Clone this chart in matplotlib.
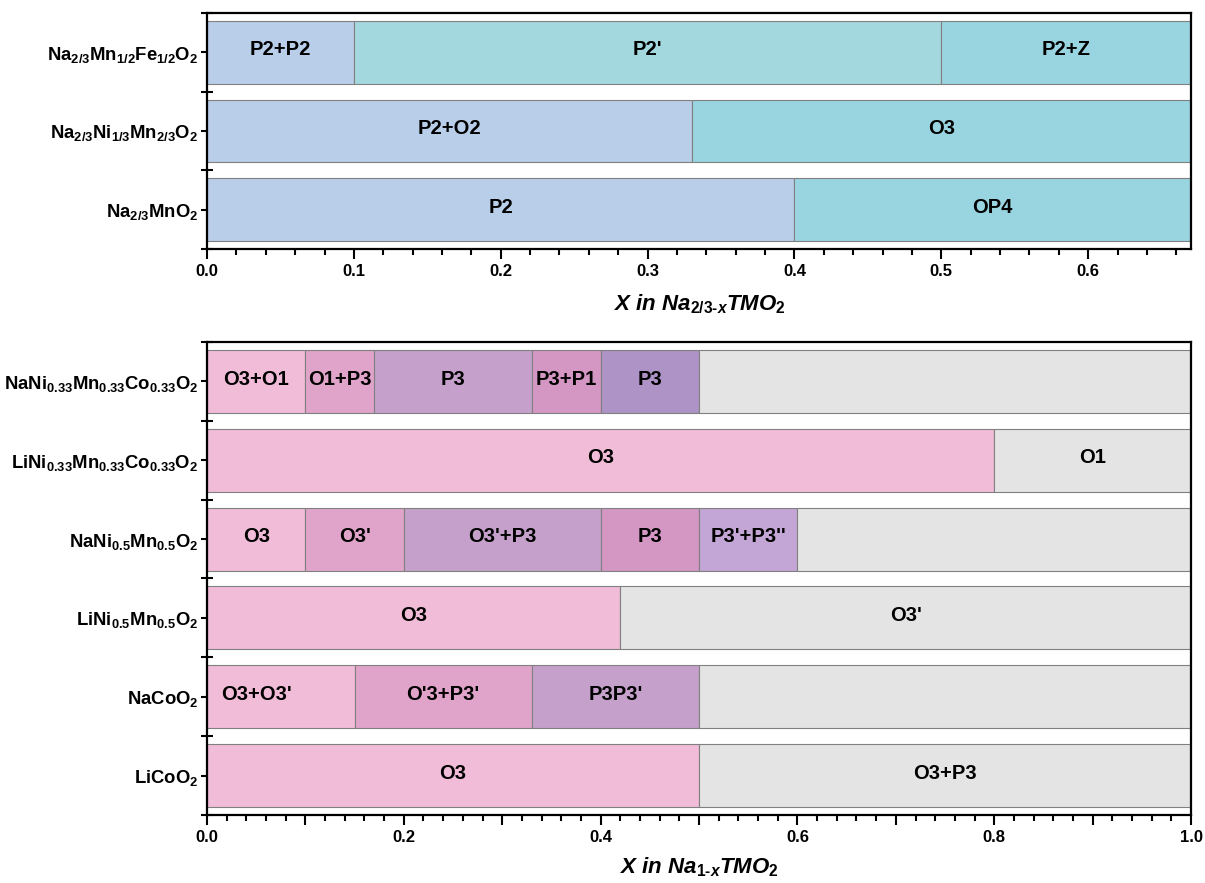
import matplotlib
matplotlib.use("Agg")
import matplotlib.pyplot as plt
from matplotlib.ticker import MultipleLocator, FixedLocator, FuncFormatter

plt.rcParams["font.family"] = "Liberation Sans"
plt.rcParams["font.weight"] = "bold"
plt.rcParams["mathtext.fontset"] = "custom"
plt.rcParams["mathtext.rm"] = "Liberation Sans:bold"
plt.rcParams["mathtext.it"] = "Liberation Sans:bold:italic"
plt.rcParams["mathtext.bf"] = "Liberation Sans:bold"

# ---- top panel: x in Na(2/3-x)TMO2 ----
top_names = [r"$\mathrm{Na_{2/3}Mn_{1/2}Fe_{1/2}O_2}$",
             r"$\mathrm{Na_{2/3}Ni_{1/3}Mn_{2/3}O_2}$",
             r"$\mathrm{Na_{2/3}MnO_2}$"]
top_bounds = [[0.0, 0.1, 0.5, 0.67],
              [0.0, 0.33, 0.67],
              [0.0, 0.4, 0.67]]
top_phases = [["P2+P2", "P2'", "P2+Z"],
              ["P2+O2", "O3"],
              ["P2", "OP4"]]

# ---- bottom panel: x in Na(1-x)TMO2 ----
bot_names = [r"$\mathrm{NaNi_{0.33}Mn_{0.33}Co_{0.33}O_2}$",
             r"$\mathrm{LiNi_{0.33}Mn_{0.33}Co_{0.33}O_2}$",
             r"$\mathrm{NaNi_{0.5}Mn_{0.5}O_2}$",
             r"$\mathrm{LiNi_{0.5}Mn_{0.5}O_2}$",
             r"$\mathrm{NaCoO_2}$",
             r"$\mathrm{LiCoO_2}$"]
bot_bounds = [[0.0, 0.1, 0.17, 0.33, 0.4, 0.5, 1.0],
              [0.0, 0.8, 1.0],
              [0.0, 0.1, 0.2, 0.4, 0.5, 0.6, 1.0],
              [0.0, 0.42, 1.0],
              [0.0, 0.15, 0.33, 0.5, 1.0],
              [0.0, 0.5, 1.0]]
bot_phases = [["O3+O1", "O1+P3", "P3", "P3+P1", "P3", ""],
              ["O3", "O1"],
              ["O3", "O3'", "O3'+P3", "P3", "P3'+P3''", ""],
              ["O3", "O3'"],
              ["O3+O3'", "O'3+P3'", "P3P3'", ""],
              ["O3", "O3+P3"]]

# colours per segment
c_blue, c_teal1, c_teal2 = "#b9cee9", "#a3d8df", "#99d5e0"
c_pink, c_mpink, c_purp = "#f1bcd7", "#e0a4ca", "#c4a0cb"
c_rose, c_vio, c_lav, c_gray = "#d497c4", "#ae93c6", "#c3a6d6", "#e4e4e4"
top_colors = [[c_blue, c_teal1, c_teal2],
              [c_blue, c_teal2],
              [c_blue, c_teal2]]
bot_colors = [[c_pink, c_mpink, c_purp, c_rose, c_vio, c_gray],
              [c_pink, c_gray],
              [c_pink, c_mpink, c_purp, c_rose, c_lav, c_gray],
              [c_pink, c_gray],
              [c_pink, c_mpink, c_purp, c_gray],
              [c_pink, c_gray]]


def draw(ax, names, bounds, phases, colors, xmax):
    n = len(names)
    for i in range(n):
        b = bounds[i]
        for j in range(len(b) - 1):
            ax.barh(i, b[j + 1] - b[j], left=b[j], height=0.8,
                    color=colors[i][j], edgecolor="#808080", linewidth=0.8)
            if phases[i][j]:
                xc = (b[j] + b[j + 1]) / 2
                if phases[i][j] == "O3+O3'":
                    xc = 0.05
                ax.text(xc, i - 0.03, phases[i][j], ha="center", va="center",
                        fontsize=14.5, fontweight="bold")
    ax.set_ylim(n - 0.5, -0.5)
    ax.set_xlim(0, xmax)
    ax.set_yticks(range(n))
    ax.set_yticklabels(names, fontsize=13.3)
    ax.yaxis.set_minor_locator(FixedLocator([k + 0.5 for k in range(-1, n)]))
    ax.tick_params(axis="y", which="major", length=4, width=1.5, pad=2)
    ax.tick_params(axis="y", which="minor", length=8, width=1.5,
                   direction="inout")
    ax.tick_params(axis="x", which="major", length=7, width=1.5, labelsize=12)
    ax.tick_params(axis="x", which="minor", length=4, width=1.5)
    for s in ax.spines.values():
        s.set_linewidth(1.6)


fig = plt.figure(figsize=(12.05, 8.83), dpi=100)
ax1 = fig.add_axes([0.1718, 0.718, 0.8166, 0.2673])
ax2 = fig.add_axes([0.1718, 0.077, 0.8166, 0.5357])

draw(ax1, top_names, top_bounds, top_phases, top_colors, 0.67)
ax1.xaxis.set_major_locator(MultipleLocator(0.1))
ax1.xaxis.set_minor_locator(MultipleLocator(0.02))
ax1.set_xlabel(r"$\mathit{X\ in\ Na_{2/3\text{-}x}TMO_2}$", fontsize=16,
               labelpad=10)

draw(ax2, bot_names, bot_bounds, bot_phases, bot_colors, 1.0)
ax2.xaxis.set_major_locator(MultipleLocator(0.1))
ax2.xaxis.set_minor_locator(MultipleLocator(0.02))
ax2.xaxis.set_major_formatter(
    FuncFormatter(lambda v, p: f"{v:.1f}" if round(v * 10) % 2 == 0 else ""))
ax2.set_xlabel(r"$\mathit{X\ in\ Na_{1\text{-}x}TMO_2}$", fontsize=16,
               labelpad=8)

fig.savefig("out.png", dpi=100)
